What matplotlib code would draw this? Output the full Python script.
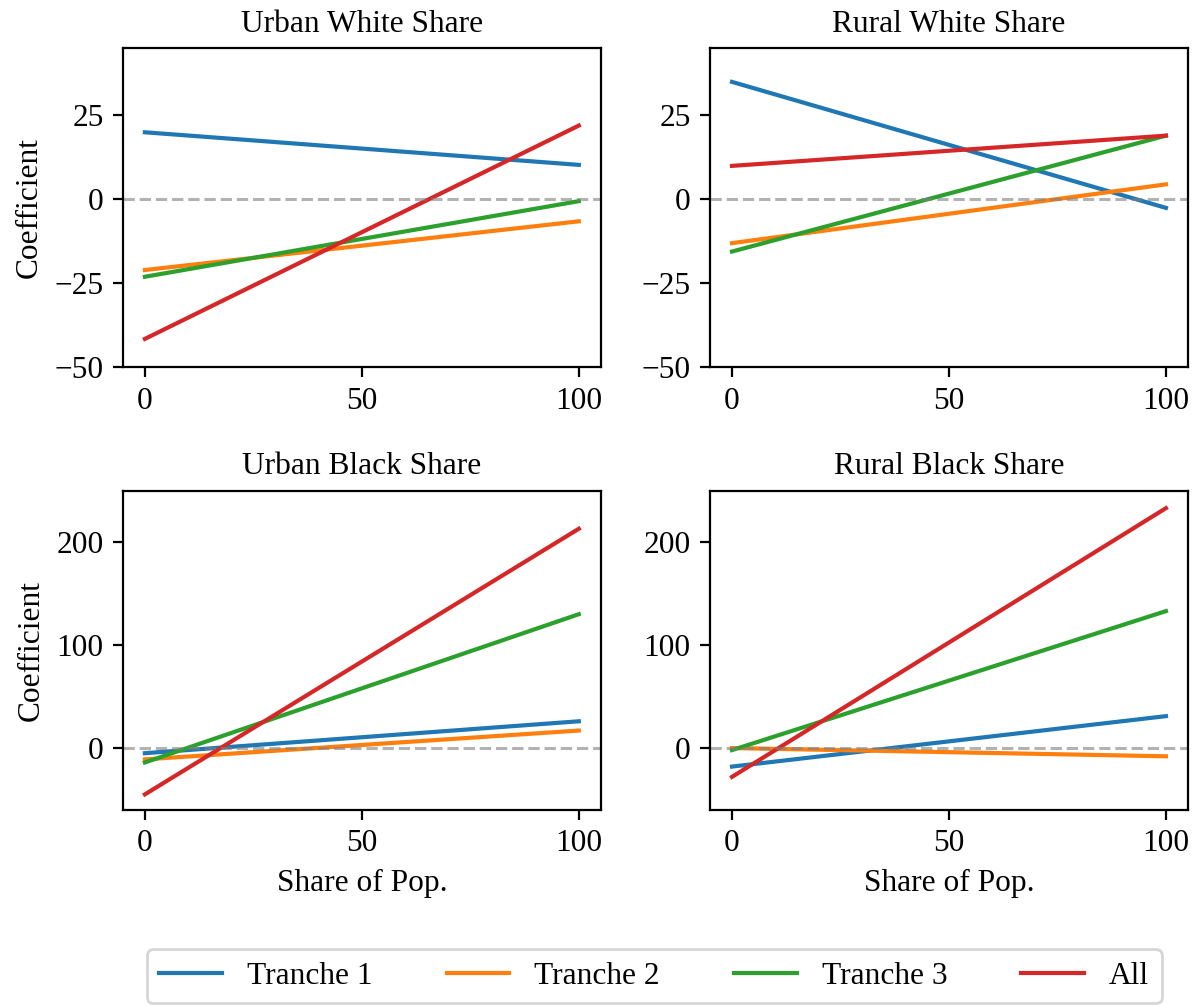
import matplotlib
matplotlib.use("Agg")
import matplotlib.pyplot as plt

plt.rcParams["font.family"] = "serif"
plt.rcParams["font.serif"] = ["Liberation Serif", "DejaVu Serif"]
plt.rcParams["font.size"] = 11.3
plt.rcParams["axes.titlesize"] = 11.3

# x range of the fitted lines (share of population, %)
x_share = [0, 100]

series_names = ["Tranche 1", "Tranche 2", "Tranche 3", "All"]
series_colors = ["tab:blue", "tab:orange", "tab:green", "tab:red"]

# Coefficient at share = 0 and share = 100 for each series
urban_white_start = [20, -21, -23, -41.5]
urban_white_end = [10.3, -6.5, -0.5, 22]

rural_white_start = [35, -13, -15.5, 10]
rural_white_end = [-2.5, 4.5, 19, 19]

urban_black_start = [-5, -11, -14, -45]
urban_black_end = [26, 17, 130, 213]

rural_black_start = [-18, 0, -2, -28]
rural_black_end = [31, -8, 133, 233]

panels = [
    ("Urban White Share", urban_white_start, urban_white_end),
    ("Rural White Share", rural_white_start, rural_white_end),
    ("Urban Black Share", urban_black_start, urban_black_end),
    ("Rural Black Share", rural_black_start, rural_black_end),
]

fig, axes = plt.subplots(2, 2, figsize=(5.98, 5.03), dpi=200)
fig.subplots_adjust(left=0.103, right=0.993, top=0.952, bottom=0.195,
                    wspace=0.23, hspace=0.386)

for i, (title, start, end) in enumerate(panels):
    ax = axes.flat[i]
    for name, color, y0, y1 in zip(series_names, series_colors, start, end):
        ax.plot(x_share, [y0, y1], color=color, label=name)
    ax.axhline(0, color="gray", linestyle="--", linewidth=1.1, alpha=0.6)
    ax.set_title(title)
    ax.set_xticks([0, 50, 100])
    if i < 2:
        ax.set_ylim(-50, 45)
        ax.set_yticks([-50, -25, 0, 25])
    else:
        ax.set_ylim(-60, 250)
        ax.set_yticks([0, 100, 200])
        ax.set_xlabel("Share of Pop.")
    if i % 2 == 0:
        ax.set_ylabel("Coefficient")

handles, labels = axes.flat[0].get_legend_handles_labels()
fig.legend(handles, labels, loc="lower center", bbox_to_anchor=(0.547, -0.013),
           ncol=4, columnspacing=2.35)

plt.savefig("out.png", dpi=200)
